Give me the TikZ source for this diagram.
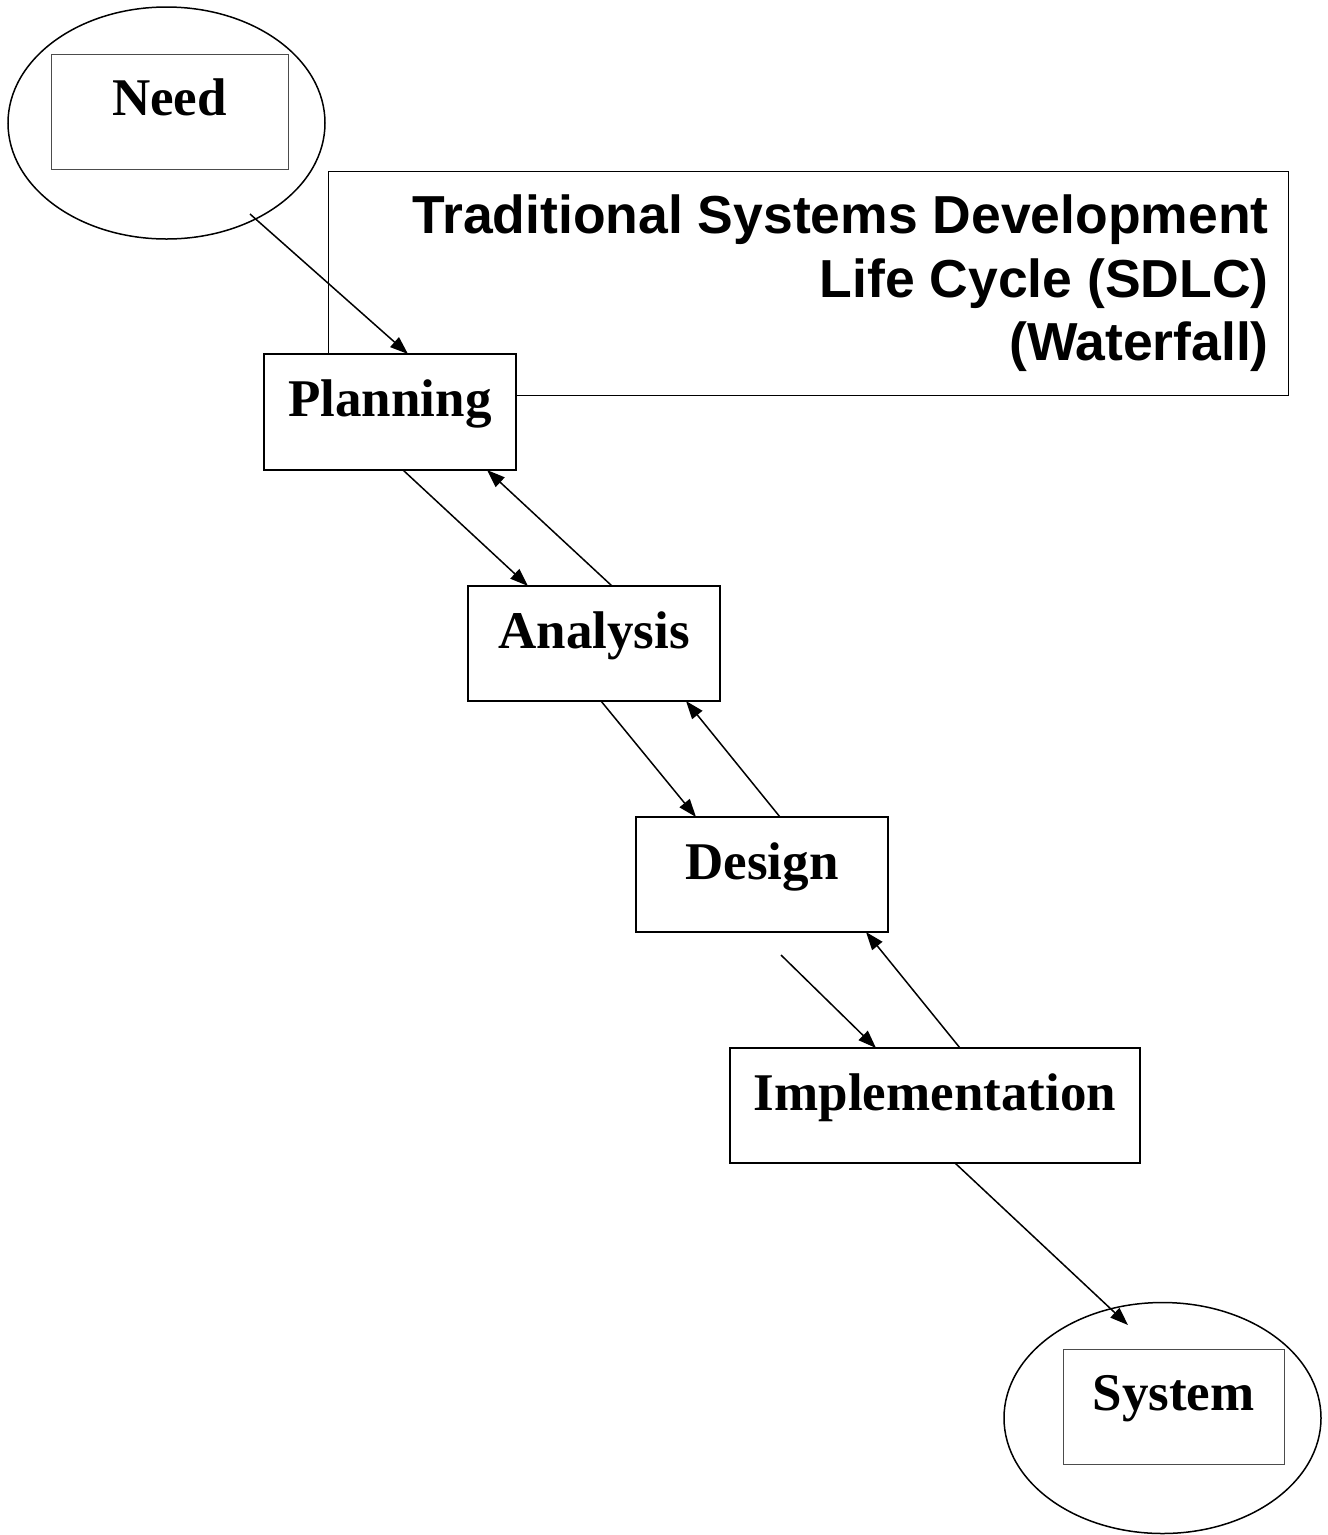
\documentclass[tikz,border=0pt]{standalone}
\usepackage{fontspec}
\setmainfont{Liberation Serif}
\newfontfamily\headfont{Liberation Sans}
\usetikzlibrary{arrows.meta,shapes.geometric}

\tikzset{
  stage/.style={draw, line width=1.6pt, fill=white, inner sep=0pt, outer sep=0pt},
  innerbox/.style={draw=black!70, line width=1pt, inner sep=0pt, outer sep=0pt},
  oval/.style={ellipse, draw, line width=1.5pt, inner sep=0pt, outer sep=0pt},
  frame/.style={draw, line width=1pt, inner sep=0pt, outer sep=0pt},
  stagetext/.style={anchor=base, inner sep=0pt, font=\fontsize{53}{60}\selectfont\bfseries},
  flow/.style={line width=1.5pt, -{Triangle[length=18pt,width=13pt]}}
}

\begin{document}
\begin{tikzpicture}[x=1pt, y=-1pt]
  \useasboundingbox (0,0) rectangle (1328,1535);

  % title frame (sits behind the Planning box)
  \node[frame, minimum width=960, minimum height=224] (title) at (808,283) {};
  \node[anchor=north east, inner sep=0pt, align=right,
        font=\headfont\bfseries\fontsize{53.5}{63.5}\selectfont]
        (titletext) at ([xshift=-19pt, yshift=-24pt]title.north east)
        {Traditional Systems Development\\Life Cycle (SDLC)\\(Waterfall)};

  % start: need
  \node[oval, minimum width=317, minimum height=232] (need) at (166.5,123) {};
  \node[innerbox, minimum width=237, minimum height=115] (needbox) at (169.5,111.5) {};
  \node[stagetext] (needtext) at ([yshift=-61pt]needbox.north) {Need};

  % stages
  \node[stage, minimum width=252, minimum height=116] (plan) at (390,412) {};
  \node[stagetext] (plantext) at ([yshift=-62pt]plan.north) {Planning};

  \node[stage, minimum width=252, minimum height=115] (anal) at (594,643.5) {};
  \node[stagetext] (analtext) at ([yshift=-62pt]anal.north) {Analysis};

  \node[stage, minimum width=252, minimum height=115] (des) at (762,874.5) {};
  \node[stagetext] (destext) at ([yshift=-62pt]des.north) {Design};

  \node[stage, minimum width=410, minimum height=115] (impl) at (935,1105.5) {};
  \node[stagetext] (impltext) at ([yshift=-62pt]impl.north) {Implementation};

  % end: system
  \node[oval, minimum width=317, minimum height=231] (sys) at (1162.5,1418) {};
  \node[innerbox, minimum width=221, minimum height=115] (sysbox) at (1173.5,1406.5) {};
  \node[stagetext] (systext) at ([yshift=-61pt]sysbox.north) {System};

  % free connector ends
  \coordinate (needout) at ([shift={(83.5,91)}]need.center);
  \coordinate (desout) at ([shift={(19,23)}]des.south);
  \coordinate (sysin) at ([shift={(-34.5,-93)}]sys.center);

  % forward flow
  \draw[flow] (needout) -- ([xshift=18pt]plan.north);
  \draw[flow] ([xshift=13pt]plan.south) -- ([xshift=-66pt]anal.north);
  \draw[flow] ([xshift=7pt]anal.south) -- ([xshift=-66pt]des.north);
  \draw[flow] (desout) -- ([xshift=-59pt]impl.north);
  \draw[flow] ([xshift=20pt]impl.south) -- (sysin);

  % feedback flow
  \draw[flow] ([xshift=18pt]anal.north) -- ([xshift=97pt]plan.south);
  \draw[flow] ([xshift=18pt]des.north) -- ([xshift=92pt]anal.south);
  \draw[flow] ([xshift=25pt]impl.north) -- ([xshift=104pt]des.south);
\end{tikzpicture}
\end{document}
